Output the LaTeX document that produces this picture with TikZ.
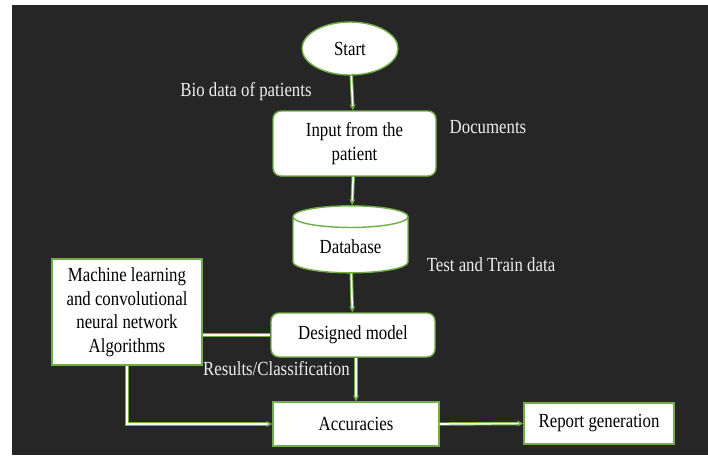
\documentclass[tikz,border=0pt]{standalone}
\usepackage{fontspec}
\setmainfont{Liberation Serif}[FakeStretch=0.84]
\usetikzlibrary{arrows.meta,shapes.geometric,positioning}
\definecolor{boxgreen}{HTML}{70AD47}
\definecolor{bgdark}{HTML}{262626}
\definecolor{labelgray}{HTML}{EDEDED}

\begin{document}
\begin{tikzpicture}[x=1pt,y=-1pt]
\tikzset{
  basic/.style  = {draw=boxgreen, fill=white, line width=1.4pt, inner sep=2pt,
                   align=center, font=\fontsize{20}{23.5}\selectfont},
  terminal/.style = {basic, ellipse, minimum width=96pt, minimum height=53pt},
  soft/.style   = {basic, rectangle, rounded corners=8pt},
  plain/.style  = {basic, rectangle},
  store/.style  = {basic, cylinder, shape border rotate=90, aspect=0.33,
                   minimum width=115pt, minimum height=67pt},
  note/.style   = {text=labelgray, font=\fontsize{20}{23.5}\selectfont},
  link/.style   = {draw=boxgreen, double=white, line width=0.9pt,
                   double distance=1.6pt},
  >={Stealth[length=6pt,width=6pt]}
}

% background
\useasboundingbox (0,0) rectangle (708,455);
\fill[white] (0,0) rectangle (708,455);
\fill[bgdark] (12,5) rectangle (708,455);

% main column
\node[terminal] (start) at (350,48.5) {Start};
\node[soft, minimum width=163pt, minimum height=65pt] (input) at (354.5,143.5)
  {Input from the\\patient};
\node[store] (db) at (350.5,246.5) {Database};
\node[soft, minimum width=164pt, minimum height=44pt] (model) at (353,335)
  {Designed model};
\node[plain, minimum width=166pt, minimum height=44pt] (acc) at (356,424)
  {Accuracies};

% side boxes
\node[plain, minimum width=150pt, minimum height=106pt] (algo) at (127,312)
  {Machine learning\\and convolutional\\neural network\\Algorithms};
\node[plain, minimum width=150pt, minimum height=41pt] (report) at (599,423.5)
  {Report generation};

% labels beside the flow
\node[note] (bio) at (246,92) {Bio data of patients};
\node[note] (docs) at (488,127) {Documents};
\node[note] (tt) at (491,265) {Test and Train data};
\node[note] (res) at (276.5,369) {Results/Classification};

% connectors
\draw[link,->] (start) -- (input);
\draw[link,->] (input) -- (db);
\draw[link,->] (db) -- (model);
\draw[link] (model) -- (algo.east |- model);
\draw[link,->] ([xshift=3pt]model.south) -- ([xshift=3pt]model.south |- acc.north);
\draw[link,->] (algo.south) |- (acc.west);
\draw[link,->] (acc.east) -- (report.west);
\end{tikzpicture}
\end{document}
